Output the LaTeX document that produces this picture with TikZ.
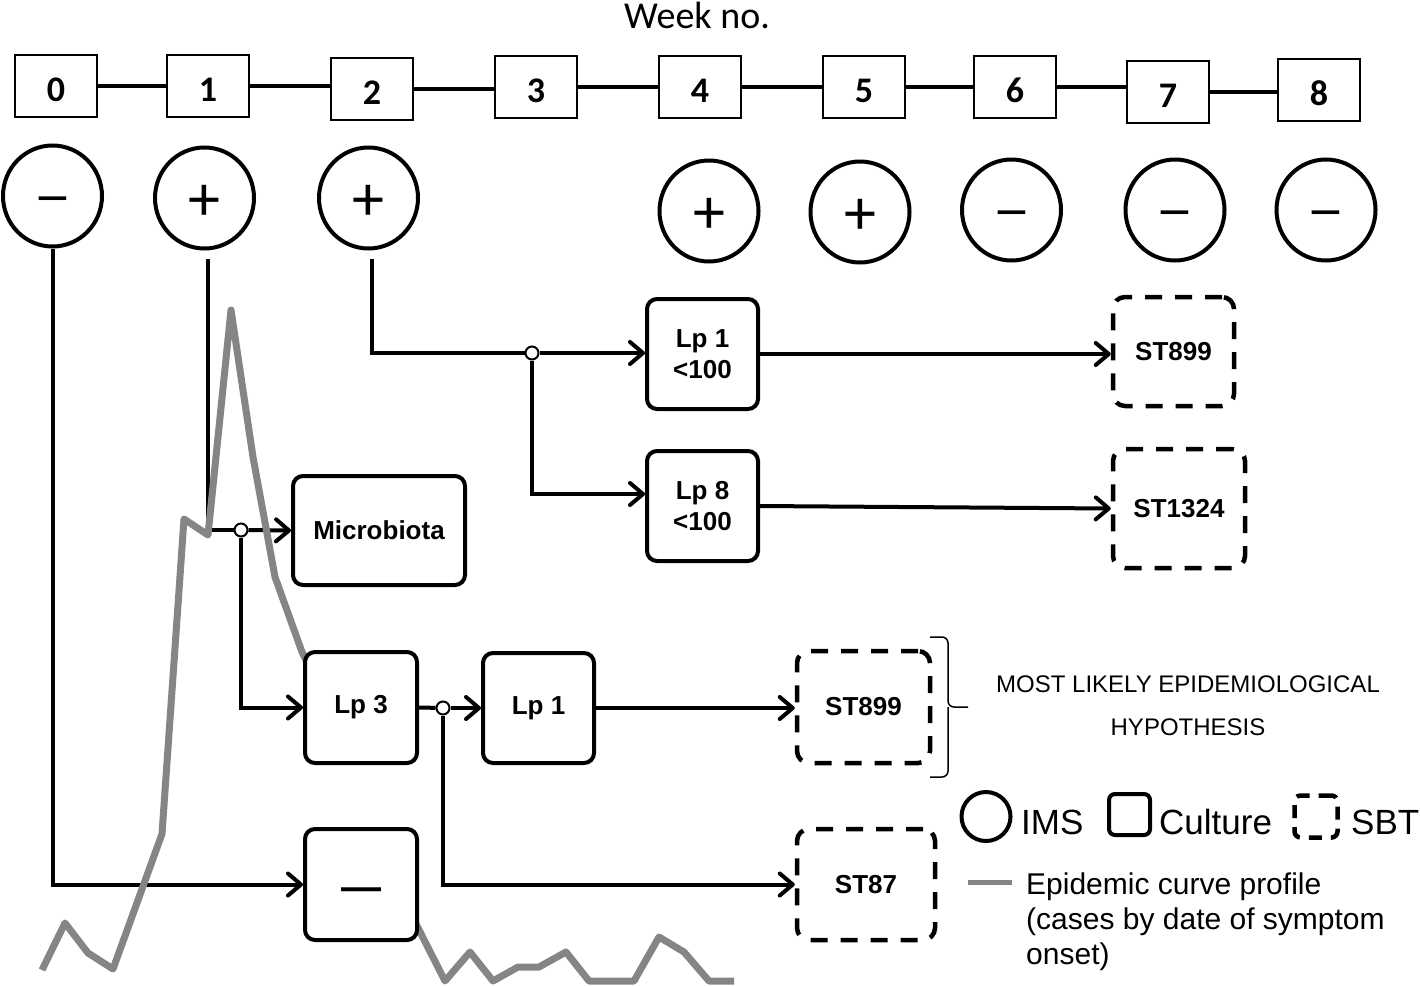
\documentclass[tikz,border=0pt]{standalone}
\usepackage{fontspec}
\setmainfont{Liberation Sans}
\newfontfamily\calfont{Carlito}
\newfontfamily\dvfont{DejaVu Sans}
\usetikzlibrary{arrows.meta,shapes.geometric}
\definecolor{curvegrey}{HTML}{858585}
\pgfdeclarelayer{back}
\pgfdeclarelayer{mid}
\pgfsetlayers{back,mid,main}
\begin{document}
\begin{tikzpicture}[x=1pt,y=-1pt,
  week/.style={draw,line width=2pt,minimum width=82pt,minimum height=62pt,inner sep=0pt,
    text height=31pt,text depth=0pt,
    font=\calfont\bfseries\fontsize{36}{40}\selectfont},
  ims/.style={draw,ellipse,line width=4pt,minimum width=99pt,minimum height=101pt,inner sep=0pt,
    text height=44pt,text depth=0pt,
    font=\calfont\fontsize{64}{70}\selectfont},
  imsneg/.style={draw,ellipse,line width=4pt,minimum width=99pt,minimum height=101pt,inner sep=0pt,
    text height=32pt,text depth=0pt,
    font=\dvfont\fontsize{44}{50}\selectfont},
  culture/.style={draw,fill=white,rounded corners=10pt,line width=4pt,inner sep=0pt,
    font=\bfseries\fontsize{26}{31}\selectfont,align=center},
  sbt/.style={draw,fill=white,rounded corners=12pt,line width=4.5pt,dash pattern=on 17pt off 13pt,
    inner sep=0pt,font=\bfseries\fontsize{26}{31}\selectfont},
  conn/.style={line width=4pt},
  arr/.style={conn,-{Straight Barb[length=13pt,width=22pt,round]}},
  junc/.style={circle,draw,fill=white,line width=2pt,minimum size=13pt,inner sep=0pt},
  curve/.style={line width=7pt,color=curvegrey,line join=round},
  lbl/.style={inner sep=0pt,anchor=base west},
]
\useasboundingbox (0,0) rectangle (1420,985);

% title
\node[inner sep=0pt,anchor=base,font=\calfont\fontsize{38}{42}\selectfont] (title) at (697,28) {Week no.};

% week boxes
\node[week] (w0) at (56,86) {0};
\node[week] (w1) at (208,86) {1};
\node[week] (w2) at (372,89) {2};
\node[week] (w3) at (536,87) {3};
\node[week] (w4) at (700,87) {4};
\node[week] (w5) at (864,87) {5};
\node[week] (w6) at (1015,87) {6};
\node[week] (w7) at (1168,92) {7};
\node[week] (w8) at (1319,90) {8};

% IMS circles
\node[imsneg] (c0) at (52.5,196) {−};
\node[ims] (c1) at (204.5,198) {+};
\node[ims] (c2) at (368.5,198) {+};
\node[ims] (c4) at (709,211) {+};
\node[ims] (c5) at (860,212) {+};
\node[imsneg] (c6) at (1011.5,210) {−};
\node[imsneg] (c7) at (1175,210) {−};
\node[imsneg] (c8) at (1326,210) {−};

% culture boxes
\node[culture,minimum width=111pt,minimum height=110pt] (lpA) at (702.5,354) {Lp 1\\<100};
\node[culture,minimum width=111pt,minimum height=110pt] (lpB) at (702.5,506) {Lp 8\\<100};
\node[culture,minimum width=172pt,minimum height=109pt] (micro) at (379,530.5) {Microbiota};
\node[culture,minimum width=112pt,minimum height=111pt] (lp3) at (361,707.5) {Lp 3};
\node[culture,minimum width=111pt,minimum height=110pt] (lp1) at (538.5,708) {Lp 1};
\node[culture,minimum width=112pt,minimum height=111pt,text height=32pt,text depth=0pt,
      font=\bfseries\fontsize{40}{44}\selectfont] (neg) at (361,884.5) {—};

% SBT boxes
\node[sbt,minimum width=121pt,minimum height=109pt] (stA) at (1173.5,351.5) {ST899};
\node[sbt,minimum width=132pt,minimum height=119pt] (stB) at (1179,508.5) {ST1324};
\node[sbt,minimum width=133pt,minimum height=112pt] (stC) at (863.5,707) {ST899};
\node[sbt,minimum width=138pt,minimum height=111pt] (stD) at (866,884.5) {ST87};

% junctions
\node[junc] (j1) at (241,530) {};
\node[junc] (j2) at (532,353) {};
\node[junc] (j3) at (443,708) {};

\coordinate (c1s) at ([xshift=3.5pt,yshift=-8pt]c1.south);
\coordinate (c2s) at ([xshift=3.5pt,yshift=-8pt]c2.south);

\begin{pgfonlayer}{back}
  \foreach \a/\b in {w0/w1,w1/w2,w2/w3,w3/w4,w4/w5,w5/w6,w6/w7,w7/w8}
    \draw[conn] (\a.east) -- (\a.east -| \b.west);
  \draw[arr] (c0.south) |- (neg.west);
  \draw[conn] (c1s) |- (j1);
  \draw[arr] (j1) -- (micro.west);
  \draw[arr] (j1) |- (lp3.west);
  \draw[conn] (c2s) |- (j2);
  \draw[arr] (j2) -- (j2 -| lpA.west);
  \draw[arr] (j2) |- ([yshift=12pt]lpB.west);
  \draw[arr] (lpA.east) -- (lpA.east -| stA.west);
  \draw[arr] (lpB.east) -- (stB.west);
  \draw[conn] (lp3.east) -- (j3);
  \draw[arr] (j3) -- (lp1.west);
  \draw[arr] (lp1.east) -- (lp1.east -| stC.west);
  \draw[arr] (j3) |- (stD.west);
\end{pgfonlayer}

\begin{pgfonlayer}{mid}
  \draw[curve] (42,970) -- (65,923) -- (88,953) -- (113,969) -- (162,834) -- (184,519)
     -- (208,535) -- (231,310) -- (253,457) -- (275,577) -- (302,652) -- (312,672);
  \draw[curve] (412,916) -- (445,981) -- (470,952) -- (493,981) -- (518,967) -- (539,967)
     -- (566,952) -- (589,981) -- (634,981) -- (659,937) -- (684,952) -- (709,981) -- (734,981);
\end{pgfonlayer}

% brace
\draw[line width=1.5pt,rounded corners=6pt] (930,637) -| (948,707) -- (968,707);
\draw[line width=1.5pt,rounded corners=6pt] (930,777) -| (948,707);

\node[inner sep=0pt,anchor=base,font=\fontsize{24}{28}\selectfont] (h1) at (1188,692) {MOST LIKELY EPIDEMIOLOGICAL};
\node[inner sep=0pt,anchor=base,font=\fontsize{24}{28}\selectfont] (h2) at (1188,735) {HYPOTHESIS};

% legend
\node[draw,circle,line width=4pt,minimum size=49pt,inner sep=0pt] (lgI) at (986,816.5) {};
\node[lbl,font=\fontsize{35}{40}\selectfont] (tI) at (1021,834) {IMS};
\node[draw,rounded corners=6pt,line width=4pt,minimum size=41pt,inner sep=0pt] (lgC) at (1129.5,814.5) {};
\node[lbl,font=\fontsize{35}{40}\selectfont] (tC) at (1159,834) {Culture};
\node[draw,rounded corners=6pt,line width=4.5pt,dash pattern=on 13pt off 9pt,minimum width=43pt,minimum height=42pt,inner sep=0pt] (lgS) at (1316,816.5) {};
\node[lbl,font=\fontsize{35}{40}\selectfont] (tS) at (1351,834) {SBT};
\coordinate (g1) at (968,882);
\coordinate (g2) at (1012,882);
\draw[line width=5pt,curvegrey] (g1) -- (g2);
\node[lbl,font=\fontsize{30}{35}\selectfont] (e1) at (1026,894) {Epidemic curve profile};
\node[lbl,font=\fontsize{30}{35}\selectfont] (e2) at (1026,929) {(cases by date of symptom};
\node[lbl,font=\fontsize{30}{35}\selectfont] (e3) at (1026,964) {onset)};
\end{tikzpicture}
\end{document}
